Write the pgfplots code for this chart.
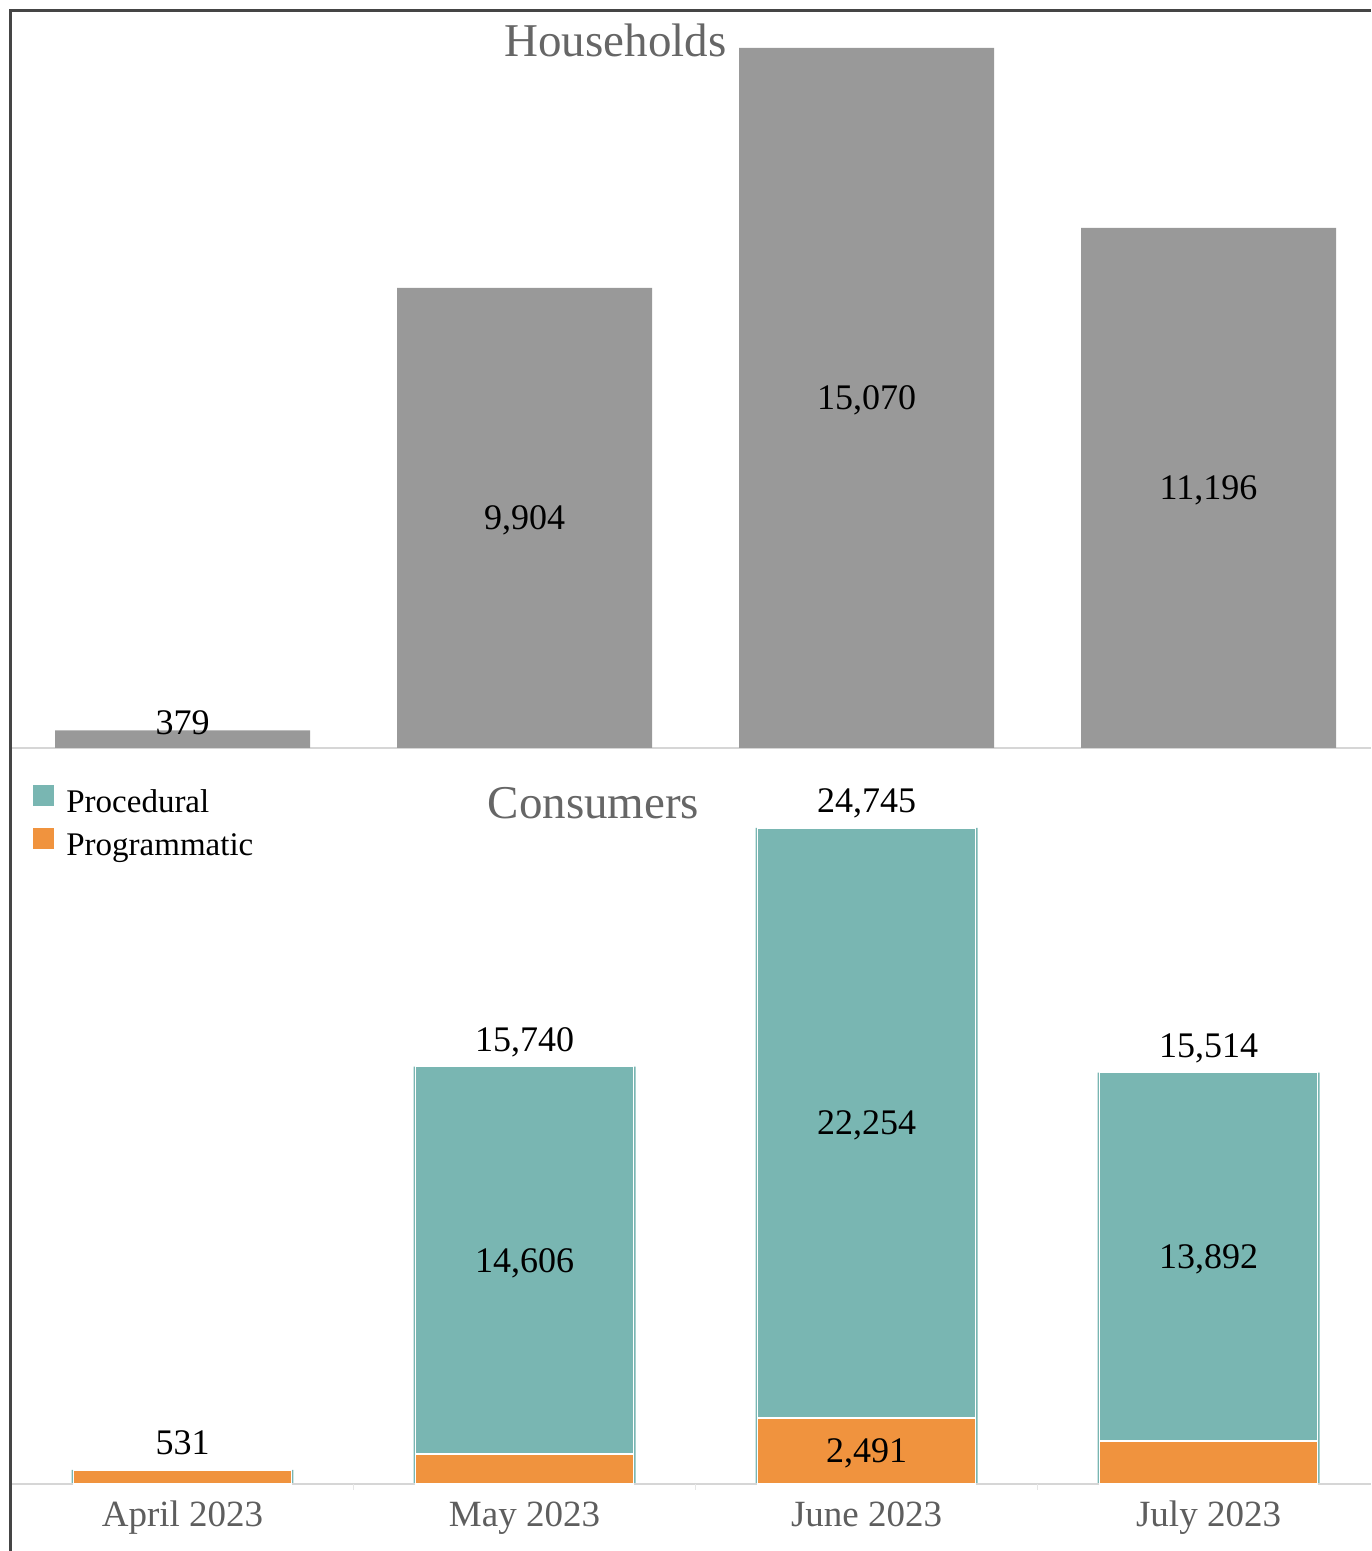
\documentclass[border=0pt]{standalone}
\usepackage{pgfplots}
\pgfplotsset{compat=1.18}
\usepackage{fontspec}
\setmainfont{Liberation Serif}
\definecolor{barGray}{HTML}{999999}
\definecolor{tealc}{HTML}{79B6B2}
\definecolor{orng}{HTML}{F0933E}
\definecolor{titleGray}{HTML}{666666}
\definecolor{tickGray}{HTML}{5E5E5E}
\definecolor{baseGray}{HTML}{D6D6D6}
\definecolor{sepGray}{HTML}{E6E6E6}
\definecolor{frameGray}{HTML}{454545}
\tikzset{lbl/.style={font=\fontsize{18}{21}\selectfont, text=black, inner sep=0pt}}
\begin{document}
\begin{tikzpicture}
\useasboundingbox (0,0) rectangle (685.5pt,775.5pt);
\pgfplotsset{
  geom/.style={
    scale only axis, width=679.75pt, anchor=south west,
    xmin=-0.5, xmax=3.475, ymin=0, clip=false,
  },
  panel/.style={
    geom,
    axis x line*=bottom, axis y line=none,
    x axis line style={draw=baseGray, line width=1pt},
    xtick={0,1,2,3},
    major tick length=0pt,
    xtick style={draw=none},
  },
}
% ---------------- Households ----------------
\begin{axis}[panel, at={(5.75pt,401.5pt)}, height=369pt, ymax=15888, xticklabels={}]
\addplot[ybar, bar width=0.7456, bar shift=0pt, fill=barGray, draw=none]
  coordinates {(0,379) (1,9904) (2,15070) (3,11196)};
\node[lbl, anchor=base, yshift=-2pt] at (axis cs:0,379) {379};
\node[lbl, anchor=base, yshift=-6pt] at (axis cs:1,4952) {9,904};
\node[lbl, anchor=base, yshift=-6pt] at (axis cs:2,7535) {15,070};
\node[lbl, anchor=base, yshift=-6pt] at (axis cs:3,5598) {11,196};
\end{axis}
% ---------------- Consumers: outer teal frame of each bar ----------------
\begin{axis}[geom, hide axis, at={(5.75pt,33.5pt)}, height=368pt, ymax=27763]
\addplot[ybar, bar width=0.649, bar shift=0pt, fill=tealc, draw=none]
  coordinates {(0,531) (1,15740) (2,24745) (3,15514)};
\end{axis}
% ---------------- Consumers: stacked bars ----------------
\begin{axis}[panel, at={(5.75pt,33.5pt)}, height=368pt, ymax=27763,
  ybar stacked, bar width=0.6374,
  xticklabels={April 2023, May 2023, June 2023, July 2023},
  xticklabel style={anchor=base, yshift=-21pt, font=\fontsize{18.5}{22}\selectfont, text=tickGray},
  extra x ticks={0.5,1.5,2.5}, extra x tick labels={},
  extra x tick style={major tick length=3pt, tick align=outside, xtick style={draw=sepGray, line width=0.6pt}},
  reverse legend,
  legend cell align=left,
  legend image code/.code={\fill[#1, draw=none] (0pt,-1pt) rectangle (10.5pt,9.5pt);},
  legend style={at={(0.0158,0.95)}, anchor=north west, draw=none, fill=none, inner sep=0pt,
    font=\fontsize{16.5}{20}\selectfont, row sep=4pt,
    nodes={inner sep=0pt, text height=12pt, text depth=4pt},
    /tikz/every odd column/.append style={column sep=6pt}},
]
\addplot[fill=orng, draw=white, line width=0.7pt]
  coordinates {(0,531) (1,1134) (2,2491) (3,1622)};
\addlegendentry{Programmatic}
\addplot[fill=tealc, draw=white, line width=0.7pt]
  coordinates {(0,0) (1,14606) (2,22254) (3,13892)};
\addlegendentry{Procedural}
\end{axis}
% ---------------- Consumers: value labels (on top) ----------------
\begin{axis}[geom, hide axis, at={(5.75pt,33.5pt)}, height=368pt, ymax=27763]
\addplot[draw=none, forget plot] coordinates {(0,0) (3,0)};
% totals
\node[lbl, anchor=base, yshift=7.75pt] at (axis cs:0,531) {531};
\node[lbl, anchor=base, yshift=7.75pt] at (axis cs:1,15740) {15,740};
\node[lbl, anchor=base, yshift=7.75pt] at (axis cs:2,24745) {24,745};
\node[lbl, anchor=base, yshift=7.75pt] at (axis cs:3,15514) {15,514};
% segment labels
\node[lbl, anchor=base, yshift=-6pt] at (axis cs:1,8437) {14,606};
\node[lbl, anchor=base, yshift=-6pt] at (axis cs:2,13618) {22,254};
\node[lbl, anchor=base, yshift=-6pt] at (axis cs:3,8568) {13,892};
\node[lbl, anchor=base, yshift=-6pt] at (axis cs:2,1245.5) {2,491};
\end{axis}
% ---------------- titles and frame ----------------
\node[anchor=base, font=\fontsize{23.5}{28}\selectfont, text=titleGray, inner sep=0pt] at (307.75pt,747pt) {Households};
\node[anchor=base, font=\fontsize{23.5}{28}\selectfont, text=titleGray, inner sep=0pt] at (296.75pt,366pt) {Consumers};
\draw[frameGray, line width=1.5pt, line join=miter] (5.25pt,0pt) -- (5.25pt,770pt) -- (685.5pt,770pt);
\end{tikzpicture}
\end{document}
